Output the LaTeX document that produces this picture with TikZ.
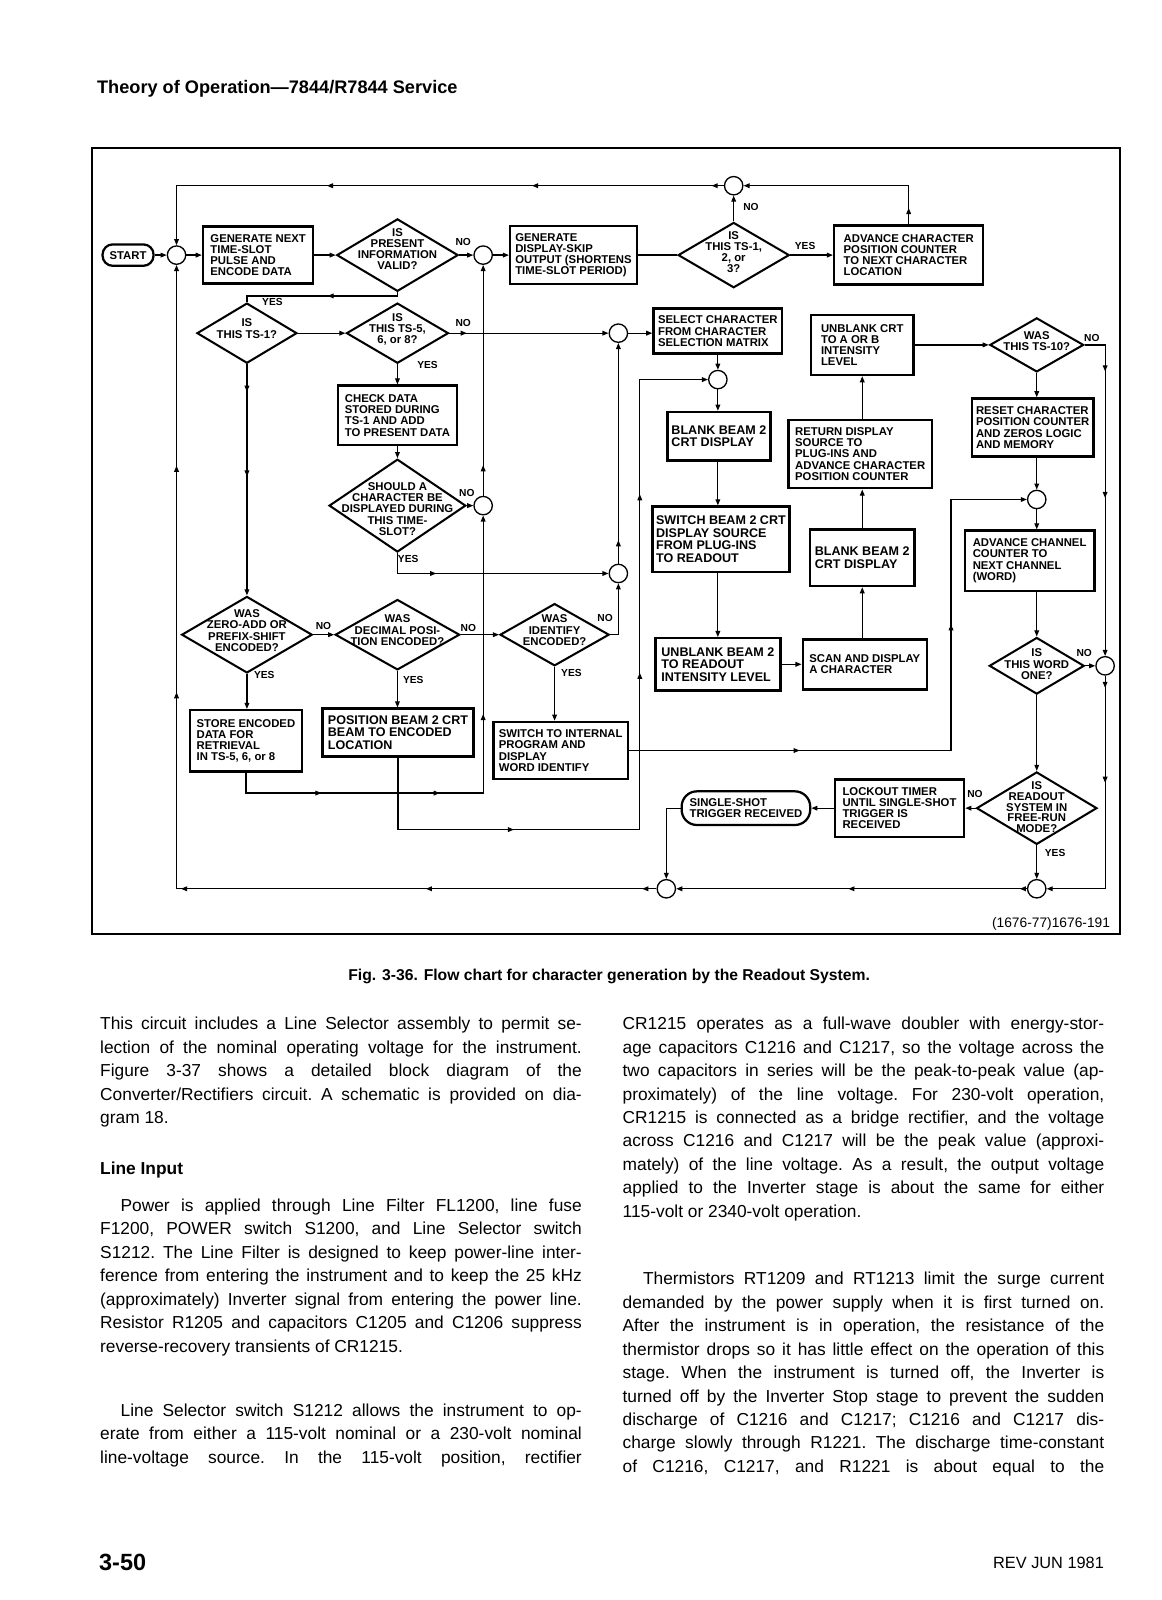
\documentclass[tikz,border=0pt]{standalone}
\usepackage{fontspec}
\setmainfont{Liberation Sans}
\usetikzlibrary{positioning, shapes.geometric, arrows.meta, decorations.markings}

\newcommand{\boxfont}{\fontsize{11.1}{11}\selectfont\bfseries}
\newcommand{\decfont}{\fontsize{11.1}{11}\selectfont\bfseries}
\newcommand{\bigboxfont}{\fontsize{12.3}{12.3}\selectfont\bfseries}
\newcommand{\lblfont}{\fontsize{10}{10}\selectfont\bfseries}
\newcommand{\bodyfont}{\fontsize{17}{23}\selectfont\frenchspacing}
\newcommand{\jl}[1]{\makebox[472pt][s]{#1}}

\begin{document}
\begin{tikzpicture}[x=1pt, y=-1pt,
>={Triangle[length=6pt,width=4.6pt]},
every node/.style={font=\boxfont},
box/.style={draw, line width=2.4pt, align=left, inner sep=2pt},
bigbox/.style={box, font=\bigboxfont},
dec/.style={diamond, draw, line width=2pt, inner sep=0pt},
dtext/.style={align=center, inner sep=0pt, font=\decfont},
junc/.style={circle, draw, line width=1.3pt, minimum size=18pt, inner sep=0pt},
term/.style={draw, line width=2.2pt, align=left, inner sep=2pt},
flow/.style={line width=1.2pt},
ma/.style={postaction={decorate, decoration={markings, mark=at position #1 with {\arrow{>}}}}},
lbl/.style={font=\lblfont, inner sep=0pt},
body/.style={font=\bodyfont, align=left, inner sep=0pt, anchor=base west}
]
\fill[white] (0,0) rectangle (1138,1568);
\useasboundingbox (0,0) rectangle (1138,1568);

% page head
\node[body, font=\fontsize{17.8}{20}\selectfont\bfseries] (head) at (95,92) {Theory of Operation---7844/R7844 Service};

% frame of the figure
\draw[line width=2pt] (90,145) rectangle (1098,915);

% top row
\node[term, rounded corners=10pt, minimum width=50, minimum height=21] (start) at (125.5,250) {START};
\node[junc] (j1) at (173,250) {};
\node[box, minimum width=108, minimum height=56] (gen) at (253,250) {GENERATE NEXT\\TIME-SLOT\\PULSE AND\\ENCODE DATA};
\node[dec, minimum width=119, minimum height=71, label={[dtext, yshift=6pt]center:{IS\\PRESENT\\INFORMATION\\VALID?}}] (present) at (389.5,250) {};
\node[junc] (j2) at (473.5,250) {};
\node[box, minimum width=124, minimum height=57] (skip) at (562,250) {GENERATE\\DISPLAY-SKIP\\OUTPUT (SHORTENS\\TIME-SLOT PERIOD)};
\node[dec, minimum width=109, minimum height=64, label={[dtext, yshift=3pt]center:{IS\\THIS TS-1,\\2, or\\3?}}] (ts123) at (719,250) {};
\node[junc] (jtop) at (719,182) {};
\node[box, minimum width=146, minimum height=58] (advc) at (890.5,250) {ADVANCE CHARACTER\\POSITION COUNTER\\TO NEXT CHARACTER\\LOCATION};

% left part
\node[dec, minimum width=98, minimum height=59, label={[dtext, yshift=4.5pt]center:{IS\\THIS TS-1?}}] (ts1) at (242,326.5) {};
\node[dec, minimum width=100, minimum height=59, label={[dtext, yshift=3.7pt]center:{IS\\THIS TS-5,\\6, or 8?}}] (ts568) at (389.5,326.5) {};
\node[junc] (j3) at (606,326.5) {};
\node[box, minimum width=117, minimum height=58] (check) at (389.5,407) {CHECK DATA\\STORED DURING\\TS-1 AND ADD\\TO PRESENT DATA};
\node[dec, minimum width=134, minimum height=91, label={[dtext, yshift=-3.3pt]center:{SHOULD A\\CHARACTER BE\\DISPLAYED DURING\\THIS TIME-\\SLOT?}}] (should) at (389.5,495.5) {};
\node[junc] (j5) at (473.5,495.5) {};
\node[junc] (j6) at (606,562) {};
\node[dec, minimum width=128, minimum height=75, label={[dtext, yshift=4pt]center:{WAS\\ZERO-ADD OR\\PREFIX-SHIFT\\ENCODED?}}] (zero) at (242,622) {};
\node[dec, minimum width=122, minimum height=69, label={[dtext, yshift=4.3pt]center:{WAS\\DECIMAL POSI-\\TION ENCODED?}}] (decim) at (389.5,622) {};
\node[dec, minimum width=107, minimum height=61, label={[dtext, yshift=4.3pt]center:{WAS\\IDENTIFY\\ENCODED?}}] (ident) at (543.5,622) {};
\node[box, minimum width=110, minimum height=60] (store) at (241,726) {STORE ENCODED\\DATA FOR\\RETRIEVAL\\IN TS-5, 6, or 8};
\node[bigbox, minimum width=148, minimum height=47] (posb) at (390,718) {POSITION BEAM 2 CRT\\BEAM TO ENCODED\\LOCATION};
\node[box, minimum width=132, minimum height=56] (swint) at (549.5,735.5) {SWITCH TO INTERNAL\\PROGRAM AND\\DISPLAY\\WORD IDENTIFY};

% middle part
\node[box, minimum width=126, minimum height=44] (select) at (703.5,324.5) {SELECT CHARACTER\\FROM CHARACTER\\SELECTION MATRIX};
\node[junc] (j4) at (703.5,372) {};
\node[bigbox, minimum width=101, minimum height=47.5] (blank1) at (704.5,427.5) {BLANK BEAM 2\\CRT DISPLAY};
\node[bigbox, minimum width=134, minimum height=64] (switch2) at (706.5,528.5) {SWITCH BEAM 2 CRT\\DISPLAY SOURCE\\FROM PLUG-INS\\TO READOUT};
\node[bigbox, minimum width=122.5, minimum height=51] (unbl2) at (703.5,651) {UNBLANK BEAM 2\\TO READOUT\\INTENSITY LEVEL};
\node[box, minimum width=121.5, minimum height=49] (scan) at (847.5,651) {SCAN AND DISPLAY\\A CHARACTER};
\node[bigbox, minimum width=102.5, minimum height=55.5] (blank2) at (845,546.5) {BLANK BEAM 2\\CRT DISPLAY};
\node[box, minimum width=140.5, minimum height=67] (ret) at (843,445) {RETURN DISPLAY\\SOURCE TO\\PLUG-INS AND\\ADVANCE CHARACTER\\POSITION COUNTER};
\node[box, minimum width=100, minimum height=59] (unblcrt) at (845,338) {UNBLANK CRT\\TO A OR B\\INTENSITY\\LEVEL};

% right part
\node[dec, minimum width=92, minimum height=53, label={[dtext, yshift=4pt]center:{WAS\\THIS TS-10?}}] (ts10) at (1016,338) {};
\node[box, minimum width=119, minimum height=57] (reset) at (1012,419) {RESET CHARACTER\\POSITION COUNTER\\AND ZEROS LOGIC\\AND MEMORY};
\node[junc] (j7) at (1016,489.5) {};
\node[box, minimum width=127, minimum height=59] (advch) at (1009,549.5) {ADVANCE CHANNEL\\COUNTER TO\\NEXT CHANNEL\\(WORD)};
\node[dec, minimum width=93, minimum height=55.5, label={[dtext, yshift=1.6pt]center:{IS\\THIS WORD\\ONE?}}] (word) at (1016,652.5) {};
\node[junc] (j8) at (1083,652.5) {};
\node[dec, minimum width=118, minimum height=71, label={[dtext, yshift=1pt, font=\fontsize{11.1}{10.6}\selectfont\bfseries]center:{IS\\READOUT\\SYSTEM IN\\FREE-RUN\\MODE?}}] (readout) at (1016,792) {};
\node[box, minimum width=126.5, minimum height=56] (lock) at (881.5,792) {LOCKOUT TIMER\\UNTIL SINGLE-SHOT\\TRIGGER IS\\RECEIVED};
\node[term, rounded corners=15pt, minimum width=126, minimum height=33] (single) at (731,792) {SINGLE-SHOT\\TRIGGER RECEIVED};
\node[junc] (j9) at (653,871) {};
\node[junc] (j10) at (1016,871) {};
\coordinate (busA) at (627,813);
\coordinate (busB) at (932,489.5);

% connectors
\draw[flow,->] (start) -- (j1);
\draw[flow,->] (j1) -- (gen);
\draw[flow,->] (gen) -- (present);
\draw[flow,->] (present) -- (j2);
\draw[flow,->] (j2) -- (skip);
\draw[flow] (skip) -- (ts123);
\draw[flow,->] (ts123) -- (advc);
\draw[flow,->] (ts123) -- (jtop);
\draw[flow,->,ma=16pt] (advc.north) |- (jtop);
\draw[flow,->,ma=12pt,ma=188pt,ma=389pt] (jtop) -| (j1);
\draw[flow,ma=72pt] (present.south) -- ++(0,3.5) -| (ts1.north);
\draw[flow,->] (ts1) -- (ts568);
\draw[flow,->,ma=17pt] (ts568) -- (j3);
\draw[flow,->] (ts568) -- (check);
\draw[flow,->] (check) -- (should);
\draw[flow,->] (should) -- (j5);
\draw[flow,->,ma=58pt] (should.south) |- (j6);
\draw[flow,->,ma=30pt] (j5) -- (j2);
\draw[flow,->,ma=94pt,ma=210pt,ma=330pt] (store.south) -- ++(0,20) -| (j5);
\draw[flow,->,ma=27pt,ma=110pt] (ts1) -- (zero);
\draw[flow,->] (zero) -- (decim);
\draw[flow,->] (decim) -- (ident);
\draw[flow,->] (ident.east) -| (j6);
\draw[flow,->,ma=23pt] (j6) -- (j3);
\draw[flow,->] (zero) -- (zero |- store.north);
\draw[flow,->] (decim) -- (decim |- posb.north);
\draw[flow,->] (ident) -- (ident |- swint.north);
\draw[flow,->,ma=184pt,ma=461pt,ma=636pt] (posb.south) |- (busA) |- (j4);
\draw[flow,->,ma=167pt,ma=439pt] (swint.east) -| (busB) -- (j7);
\draw[flow,->] (j3) -- (j3 -| select.west);
\draw[flow,->] (select) -- (j4);
\draw[flow,->] (j4) -- (j4 |- blank1.north);
\draw[flow,->] (j4 |- blank1.south) -- (j4 |- switch2.north);
\draw[flow,->] (j4 |- switch2.south) -- (j4 |- unbl2.north);
\draw[flow,->] (unbl2) -- (scan);
\draw[flow,->] (blank2 |- scan.north) -- (blank2);
\draw[flow,->] (blank2) -- (blank2 |- ret.south);
\draw[flow,->] (blank2 |- ret.north) -- (blank2 |- unblcrt.south);
\draw[flow,->] (unblcrt) -- (ts10);
\draw[flow,->,ma=46pt,ma=170pt] (ts10.east) -| (j8);
\draw[flow,->] (ts10) -- (ts10 |- reset.north);
\draw[flow,->] (ts10 |- reset.south) -- (j7);
\draw[flow,->] (j7) -- (j7 |- advch.north);
\draw[flow,->] (j7 |- advch.south) -- (word);
\draw[flow,->] (word) -- (j8);
\draw[flow,->] (word) -- (readout);
\draw[flow,->,ma=12pt,ma=105pt] (j8) |- (j10);
\draw[flow,->] (readout) -- (j10);
\draw[flow,->] (readout) -- (lock);
\draw[flow,->] (lock) -- (single);
\draw[flow,->] (single.west) -| (j9);
\draw[flow,->,ma=7pt,ma=175pt] (j10) -- (j9);
\draw[flow,->,ma=14pt,ma=226pt,ma=466pt,ma=663pt,ma=885pt] (j9) -| (j1);

% branch labels
\node[lbl] (noA) at (454,237.5) {NO};
\node[lbl] (noB) at (736,203) {NO};
\node[lbl] (yesB) at (789,241.5) {YES};
\node[lbl] (yesA) at (267,295.5) {YES};
\node[lbl] (noC) at (454,317) {NO};
\node[lbl] (yesC) at (419,357.5) {YES};
\node[lbl] (noD) at (457.5,483.5) {NO};
\node[lbl] (yesD) at (400,548) {YES};
\node[lbl] (noE) at (317,613.5) {NO};
\node[lbl] (noF) at (459,615.5) {NO};
\node[lbl] (noG) at (593,606) {NO};
\node[lbl] (yesE) at (259,661) {YES};
\node[lbl] (yesF) at (405,666) {YES};
\node[lbl] (yesG) at (560,660) {YES};
\node[lbl] (noH) at (1070,331) {NO};
\node[lbl] (noI) at (1062.5,640) {NO};
\node[lbl] (noJ) at (955.5,778.5) {NO};
\node[lbl] (yesH) at (1034,836) {YES};

\node[font=\fontsize{13.5}{15}\selectfont, anchor=base east, inner sep=0pt] (figno) at (1088,909) {(1676-77)1676-191};
\node[font=\fontsize{15.4}{17}\selectfont\bfseries, inner sep=0pt] (caption) at (597,957) {Fig. 3-36. Flow chart for character generation by the Readout System.};

% text columns (base = last line)
\node[body] (par1) at (98,1101) {\jl{This circuit includes a Line Selector assembly to permit se-}\\
\jl{lection of the nominal operating voltage for the instrument.}\\
\jl{Figure 3-37 shows a detailed block diagram of the}\\
\jl{Converter/Rectifiers circuit. A schematic is provided on dia-}\\
gram 18.};
\node[body, font=\fontsize{17}{23}\selectfont\bfseries] (lineinput) at (98,1151) {Line Input};
\node[body] (par2) at (98,1325) {\jl{\hspace*{20pt}Power is applied through Line Filter FL1200, line fuse}\\
\jl{F1200, POWER switch S1200, and Line Selector switch}\\
\jl{S1212. The Line Filter is designed to keep power-line inter-}\\
\jl{ference from entering the instrument and to keep the 25 kHz}\\
\jl{(approximately) Inverter signal from entering the power line.}\\
\jl{Resistor R1205 and capacitors C1205 and C1206 suppress}\\
reverse-recovery transients of CR1215.};
\node[body] (par3) at (98,1434) {\jl{\hspace*{20pt}Line Selector switch S1212 allows the instrument to op-}\\
\jl{erate from either a 115-volt nominal or a 230-volt nominal}\\
\jl{line-voltage source. In the 115-volt position, rectifier}};
\node[body] (par4) at (610,1193) {\jl{CR1215 operates as a full-wave doubler with energy-stor-}\\
\jl{age capacitors C1216 and C1217, so the voltage across the}\\
\jl{two capacitors in series will be the peak-to-peak value (ap-}\\
\jl{proximately) of the line voltage. For 230-volt operation,}\\
\jl{CR1215 is connected as a bridge rectifier, and the voltage}\\
\jl{across C1216 and C1217 will be the peak value (approxi-}\\
\jl{mately) of the line voltage. As a result, the output voltage}\\
\jl{applied to the Inverter stage is about the same for either}\\
115-volt or 2340-volt operation.};
\node[body] (par5) at (610,1443) {\jl{\hspace*{20pt}Thermistors RT1209 and RT1213 limit the surge current}\\
\jl{demanded by the power supply when it is first turned on.}\\
\jl{After the instrument is in operation, the resistance of the}\\
\jl{thermistor drops so it has little effect on the operation of this}\\
\jl{stage. When the instrument is turned off, the Inverter is}\\
\jl{turned off by the Inverter Stop stage to prevent the sudden}\\
\jl{discharge of C1216 and C1217; C1216 and C1217 dis-}\\
\jl{charge slowly through R1221. The discharge time-constant}\\
\jl{of C1216, C1217, and R1221 is about equal to the}};

% page foot
\node[body, font=\fontsize{23}{24}\selectfont\bfseries] (pageno) at (97,1539) {3-50};
\node[body, font=\fontsize{16}{18}\selectfont, anchor=base east] (rev) at (1082,1537) {REV JUN 1981};
\end{tikzpicture}
\end{document}
